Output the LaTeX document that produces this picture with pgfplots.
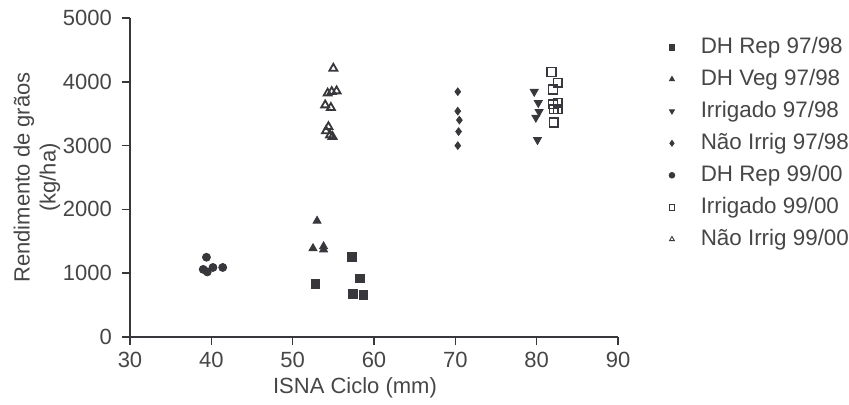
\documentclass[border=0pt]{standalone}
\usepackage{fontspec}
\setmainfont{Liberation Sans}
\usepackage{pgfplots}
\pgfplotsset{compat=1.18}
\definecolor{ink}{RGB}{55,55,60}
\definecolor{txt}{RGB}{70,70,70}

\begin{document}
\begin{tikzpicture}
\begin{axis}[
  at={(0,0)}, anchor=south west,
  scale only axis, width=244pt, height=159.5pt,
  xmin=30, xmax=90, ymin=0, ymax=5000,
  xtick={30,40,...,90}, ytick={0,1000,...,5000},
  axis lines=left, axis line style={-, ink, line width=0.8pt},
  tick align=outside, major tick length=4pt,
  tick style={ink, line width=0.8pt},
  font=\fontsize{11}{13}\selectfont,
  ticklabel style={txt},
  yticklabel style={xshift=-1.5pt},
  /pgf/number format/assume math mode=true,
  /pgf/number format/set thousands separator={},
  xlabel={ISNA Ciclo (mm)},
  xlabel style={at={(axis description cs:0.461,0)}, anchor=center, yshift=-25.5pt, txt},
  ylabel={Rendimento de grãos\\(kg/ha)},
  ylabel style={align=center, at={([xshift=-46.5pt]axis description cs:0,0.5)}, anchor=center, txt},
  legend style={at={(axis description cs:1.104,0.944)}, anchor=north west,
    draw=none, fill=none, inner sep=0pt, text=txt,
    font=\fontsize{11.2}{13}\selectfont,
    nodes={inner sep=0pt, text height=8.5pt, text depth=2.5pt, anchor=west},
    row sep=5pt,
    /tikz/every odd column/.append style={column sep=13pt}},
  legend cell align=left,
  legend image code/.code={\draw[#1, mark size=1.4pt, every mark/.append style={line width=0.45pt}] plot coordinates {(0pt,0pt)};},
]
% DH Rep 97/98
\addplot[only marks, mark=square*, mark size=2.2pt, ink] coordinates {
  (52.8,830) (57.3,1250) (58.3,920) (57.4,670) (58.7,660)};
\addlegendentry{DH Rep 97/98}
% DH Veg 97/98
\addplot[only marks, mark=triangle*, mark size=2.3pt, ink] coordinates {
  (53.0,1820) (52.5,1390) (53.8,1420) (53.8,1370)};
\addlegendentry{DH Veg 97/98}
% Irrigado 97/98
\addplot[only marks, mark=triangle*, mark size=2.3pt, mark options={rotate=180}, ink] coordinates {
  (79.7,3845) (80.2,3670) (80.3,3530) (79.9,3440) (80.1,3090)};
\addlegendentry{Irrigado 97/98}
% Nao Irrig 97/98
\addplot[only marks, mark=diamond*, mark size=1.9pt, ink] coordinates {
  (70.3,3845) (70.3,3540) (70.5,3400) (70.4,3220) (70.3,3000)};
\addlegendentry{Não Irrig 97/98}
% DH Rep 99/00
\addplot[only marks, mark=*, mark size=2pt, ink] coordinates {
  (39.4,1250) (39.0,1060) (39.5,1020) (40.2,1090) (41.4,1090)};
\addlegendentry{DH Rep 99/00}
% Irrigado 99/00
\addplot[only marks, mark=square, mark size=2.2pt, mark options={line width=0.8pt, fill=white}, ink] coordinates {
  (81.8,4155) (82.6,3985) (82.0,3880) (82.0,3650) (82.6,3670)
  (82.6,3570) (82.1,3570) (82.1,3360)};
\addlegendentry{Irrigado 99/00}
% Nao Irrig 99/00
\addplot[only marks, mark=triangle, mark size=2.3pt, mark options={line width=0.9pt, fill=white}, ink] coordinates {
  (55.0,4210) (54.3,3820) (54.8,3845) (55.4,3855) (54.0,3635)
  (54.7,3595) (54.4,3295) (54.1,3230) (54.6,3165) (54.9,3140)};
\addlegendentry{Não Irrig 99/00}
\end{axis}
\useasboundingbox (-65pt,-32pt) rectangle (359.5pt,168.5pt);
\end{tikzpicture}
\end{document}
